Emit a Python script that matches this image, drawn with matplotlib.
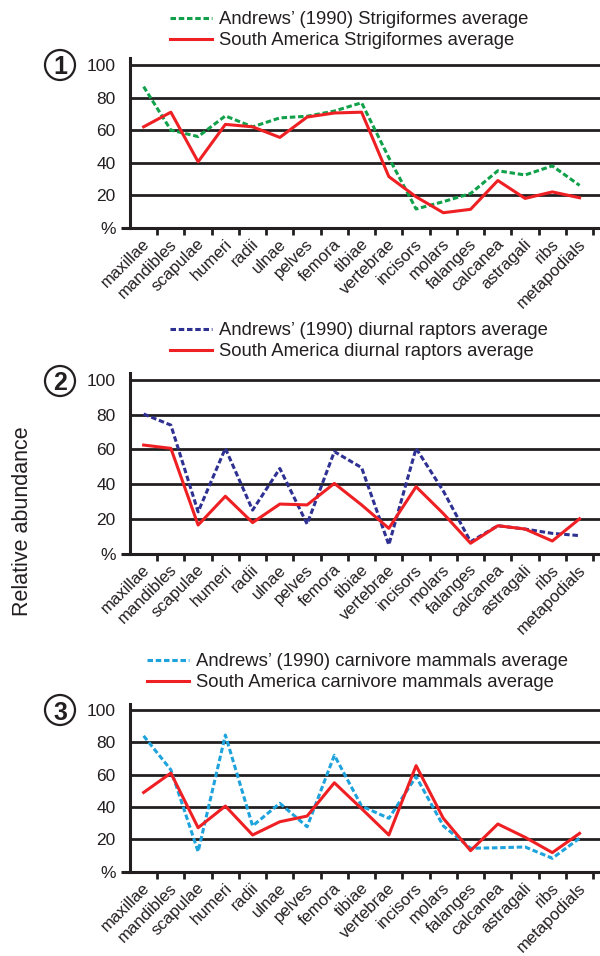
import numpy as np
import matplotlib
matplotlib.use("Agg")
import matplotlib.pyplot as plt
from matplotlib.patches import Circle
from matplotlib.transforms import ScaledTranslation

plt.rcParams["font.family"] = ["Liberation Sans", "DejaVu Sans"]

BONES = ["maxillae", "mandibles", "scapulae", "humeri", "radii", "ulnae",
         "pelves", "femora", "tibiae", "vertebrae", "incisors", "molars",
         "falanges", "calcanea", "astragali", "ribs", "metapodials"]
Y_TICKS = [0, 20, 40, 60, 80, 100]
Y_LABELS = ["%", "20", "40", "60", "80", "100"]

# panel 1: Strigiformes
STRIG_ANDREWS = [86.7, 60, 56, 68.7, 62, 67.5, 68.5, 71.7, 76.8, 43,
                 11.5, 16, 21, 35, 32.4, 38, 26]
STRIG_SOUTH = [62, 71, 40.5, 63.5, 62, 55.5, 68, 70.5, 71, 31.4,
               19, 9.2, 11.3, 29, 18, 22, 18.4]
# panel 2: diurnal raptors
RAPTOR_ANDREWS = [80.4, 74, 24, 60.6, 25, 49, 17, 58.7, 49.5, 5,
                  60.6, 36, 6.8, 16, 14.1, 11.6, 10.3]
RAPTOR_SOUTH = [62.5, 60.6, 16.4, 33, 17.8, 28.5, 28, 40.4, 28, 14.5,
                38.5, 23, 5.9, 16, 14.1, 7.2, 20]
# panel 3: carnivore mammals
CARN_ANDREWS = [84, 63, 12.4, 84.5, 28.3, 42.3, 27.8, 72, 40.6, 33,
                58.8, 28.3, 14.5, 14.8, 15.3, 8.3, 20.7]
CARN_SOUTH = [49, 61, 27.2, 40.6, 22.7, 30.9, 34.4, 55, 39, 22.7,
              65.6, 33, 13, 29.5, 21.3, 11.8, 23.7]

PANELS = [
    ("1", STRIG_ANDREWS, STRIG_SOUTH, "#12a14b",
     "Andrews\u2019 (1990) Strigiformes average",
     "South America Strigiformes average"),
    ("2", RAPTOR_ANDREWS, RAPTOR_SOUTH, "#2e3192",
     "Andrews\u2019 (1990) diurnal raptors average",
     "South America diurnal raptors average"),
    ("3", CARN_ANDREWS, CARN_SOUTH, "#1fa3dd",
     "Andrews\u2019 (1990) carnivore mammals average",
     "South America carnivore mammals average"),
]

W, H = 600, 956
INK = "#231f20"
RED = "#ee2024"

# layout in pixels: (bottom of axis, px per unit, legend left, legend top, circle y)
LAYOUT = [
    (227.7, 1.627, 170, 11, 65),
    (553.5, 1.735, 170, 322, 381),
    (871.7, 1.617, 147, 653, 710),
]
YTOP = 104

fig = plt.figure(figsize=(W / 100, H / 100), dpi=100)

for (num, andrews, south, col, lab_a, lab_s), (y0, ppu, lx, ly, cy) in zip(PANELS, LAYOUT):
    hgt = YTOP * ppu
    ax = fig.add_axes([130 / W, 1 - y0 / H, 470 / W, hgt / H])
    x = np.arange(len(BONES))
    ax.grid(axis="y", color=INK, lw=2.0)
    ax.set_axisbelow(True)
    ax.plot(x, andrews, color=col, lw=2.2, dashes=[1.8, 0.9], label=lab_a)
    ax.plot(x, south, color=RED, lw=2.2, label=lab_s)

    ax.set_xlim(-0.5, 16.75)
    ax.set_ylim(0, YTOP)
    for s in ["top", "right"]:
        ax.spines[s].set_visible(False)
    for s in ["left", "bottom"]:
        ax.spines[s].set_linewidth(2.2)
        ax.spines[s].set_color(INK)
    ax.plot([-0.02, 0], [0, 0], color=INK, lw=2.2, clip_on=False,
            transform=ax.get_yaxis_transform(), solid_capstyle="butt")

    ax.set_yticks(Y_TICKS)
    ax.set_yticklabels(Y_LABELS)
    ax.tick_params(axis="y", length=0, pad=10.5, labelsize=12.5, labelcolor=INK)

    ax.set_xticks(x)
    ax.set_xticklabels(BONES, rotation=45, ha="right", va="center",
                       rotation_mode="anchor")
    ax.tick_params(axis="x", which="major", length=0, pad=10, labelsize=12,
                   labelcolor=INK)
    ax.set_xticks(x + 0.5, minor=True)
    ax.tick_params(axis="x", which="minor", length=5, width=2, color=INK,
                   direction="out")
    shift = ScaledTranslation(4 / 100, 0, fig.dpi_scale_trans)
    for t in ax.get_xticklabels():
        t.set_transform(t.get_transform() + shift)

    ax.legend(loc="upper left", bbox_to_anchor=(lx / W, 1 - ly / H),
              bbox_transform=fig.transFigure, frameon=False, fontsize=13.3,
              handlelength=2.25, handletextpad=0.4, labelspacing=0.22,
              borderpad=0, borderaxespad=0, labelcolor=INK)

    circ = Circle((60 / 100, (H - cy) / 100), 0.15, transform=fig.dpi_scale_trans,
                  fill=False, lw=1.6, ec=INK)
    fig.add_artist(circ)
    fig.text(60 / W, 1 - cy / H, num, ha="center", va="center_baseline",
             fontsize=18, fontweight="bold", color=INK)

fig.text(23 / W, 1 - 521 / H, "Relative abundance", rotation=90,
         ha="center", va="center", fontsize=15.5, color=INK)

fig.savefig("out.png", dpi=100)
